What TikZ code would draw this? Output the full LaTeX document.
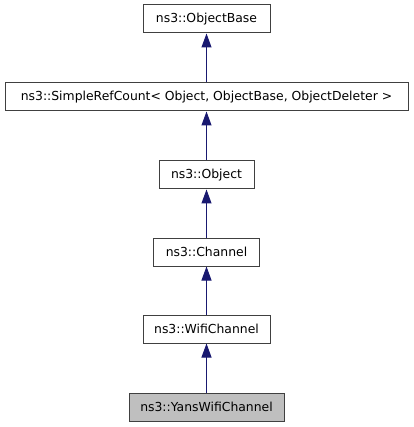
\documentclass[tikz,border=0pt]{standalone}
\usepackage{fontspec}
\setmainfont{DejaVu Sans}
\usetikzlibrary{arrows.meta}
\definecolor{midnight}{RGB}{25, 25, 112}
\definecolor{boxline}{RGB}{64, 64, 64}
\definecolor{selgray}{RGB}{191, 191, 191}

\tikzset{
    classbox/.style={draw=boxline, line width=1pt, fill=white, minimum height=28pt,
                     inner sep=0pt, font=\fontsize{12.4}{14}\selectfont},
    inherit/.style={midnight, line width=1pt, -{Triangle[length=14pt, width=10pt]}}
}

\begin{document}
\begin{tikzpicture}[x=1pt, y=-1pt]
            % Frame to ensure alignment:
            \useasboundingbox (0, 0) rectangle (413, 427);
            % Classes
            \node[classbox, minimum width=127pt] (objbase)  at (206.5,  19) {ns3::ObjectBase};
            \node[classbox, minimum width=403pt] (refcount) at (206.5,  97) {ns3::SimpleRefCount< Object, ObjectBase, ObjectDeleter >};
            \node[classbox, minimum width=95pt]  (object)   at (206.5, 175) {ns3::Object};
            \node[classbox, minimum width=106pt] (channel)  at (206.5, 252) {ns3::Channel};
            \node[classbox, minimum width=127pt] (wifi)     at (206.5, 329) {ns3::WifiChannel};
            \node[classbox, minimum width=155pt, fill=selgray] (yans) at (206.5, 407) {ns3::YansWifiChannel};
            % Inheritance
            \draw[inherit] (refcount) -- (objbase);
            \draw[inherit] (object)   -- (refcount);
            \draw[inherit] (channel)  -- (object);
            \draw[inherit] (wifi)     -- (channel);
            \draw[inherit] (yans)     -- (wifi);
        \end{tikzpicture}
\end{document}
